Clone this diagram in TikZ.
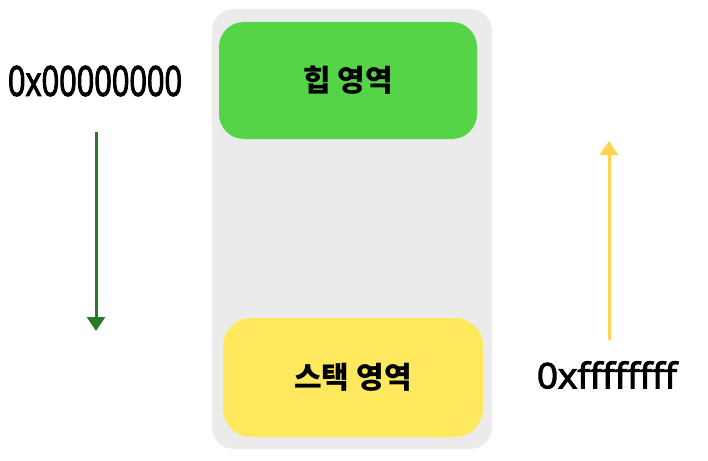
\documentclass[tikz,border=0pt]{standalone}
\usepackage{fontspec}
\usetikzlibrary{arrows.meta}
\newfontfamily\kr{Noto Sans CJK KR}
\newfontfamily\addrfont[FakeBold=3]{Open Sans}
\definecolor{panelgray}{RGB}{235,235,235}
\definecolor{heapgreen}{RGB}{86,212,72}
\definecolor{stackyellow}{RGB}{254,233,94}
\definecolor{arrowgreen}{RGB}{38,122,40}
\definecolor{arrowyellow}{RGB}{255,212,80}
\tikzset{
  region/.style={rounded corners=#1, inner sep=0pt, font=\kr\bfseries\fontsize{30}{36}\selectfont},
  addr/.style={inner sep=0pt},
  memarrow/.style={line width=3pt, -{Triangle[width=18pt,length=14pt]}}
}
\begin{document}
\begin{tikzpicture}[x=1pt,y=-1pt]
\useasboundingbox (0,0) rectangle (708,460);
\node[region=22, fill=panelgray, minimum width=280pt, minimum height=440pt] (panel) at (352,229) {};
\node[region=25, fill=heapgreen, minimum width=258pt, minimum height=117pt] (heap) at (348,80.5) {힙 영역};
\node[region=28, fill=stackyellow, minimum width=260pt, minimum height=119pt] (stack) at (353,377.5) {스택 영역};
\node[addr] (low) at (95,81) {\resizebox{174pt}{30pt}{\addrfont 0x00000000}};
\node[addr] (high) at (607,375) {\resizebox{140pt}{27pt}{\addrfont 0xffffffff}};
\coordinate (gtop) at (96,132);
\coordinate (gbot) at (96,331);
\coordinate (ybot) at (609,340);
\coordinate (ytop) at (609,141);
\draw[memarrow, draw=arrowgreen, fill=arrowgreen] (gtop) -- (gbot);
\draw[memarrow, draw=arrowyellow, fill=arrowyellow] (ybot) -- (ytop);
\end{tikzpicture}
\end{document}
